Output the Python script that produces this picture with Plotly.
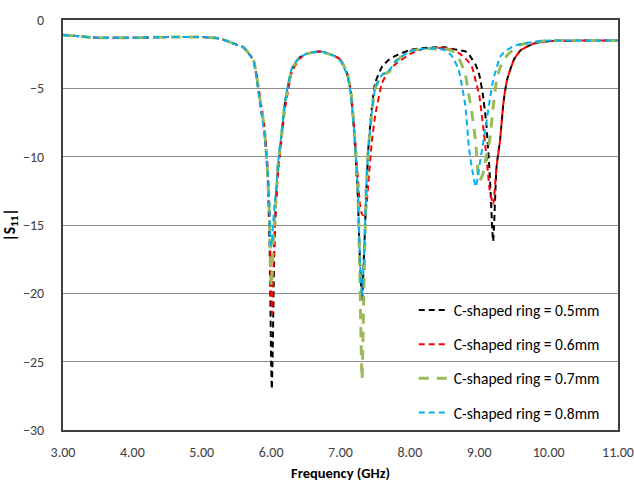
import plotly.graph_objects as go

freq = [3.0, 3.25, 3.5, 4.0, 4.5, 5.0, 5.25, 5.4, 5.5, 5.6, 5.7, 5.75, 5.8, 5.85, 5.9, 5.95, 5.98, 6.0,
        6.01, 6.02, 6.05, 6.08, 6.1, 6.15, 6.2, 6.25, 6.3, 6.4, 6.5, 6.7, 6.9, 7.0, 7.1, 7.15, 7.2, 7.25,
        7.28, 7.31, 7.34, 7.37, 7.4, 7.45, 7.5, 7.6, 7.7, 7.8, 8.0, 8.2, 8.4, 8.5, 8.6, 8.7, 8.8, 8.85,
        8.9, 8.95, 9.0, 9.05, 9.1, 9.15, 9.2, 9.25, 9.3, 9.35, 9.4, 9.5, 9.6, 9.8, 10.0, 10.5, 11.0]

s11_05 = [-1.1, -1.2, -1.3, -1.3, -1.25, -1.25, -1.35, -1.6, -1.8, -2.0, -2.6, -3.0, -4.5, -6.4, -8.0, -11.5, -17.0, -25.0,
          -27.0, -25.0, -16.0, -12.4, -10.8, -8.4, -6.1, -4.7, -3.6, -2.8, -2.5, -2.3, -2.6, -2.9, -4.0, -5.4, -8.5, -13.0,
          -17.5, -20.5, -17.0, -13.0, -9.5, -6.5, -4.6, -3.4, -2.9, -2.6, -2.2, -2.05, -2.0, -2.0, -2.1, -2.2, -2.3, -2.5,
          -2.9, -3.3, -4.0, -5.4, -7.5, -11.2, -16.2, -10.7, -8.8, -6.0, -4.4, -2.9, -2.2, -1.7, -1.55, -1.5, -1.5]

s11_06 = [-1.1, -1.2, -1.3, -1.3, -1.25, -1.25, -1.35, -1.6, -1.8, -2.0, -2.6, -3.0, -4.3, -6.0, -7.6, -10.8, -15.0, -20.0,
          -21.5, -20.5, -15.5, -12.6, -11.2, -8.8, -6.5, -5.0, -3.8, -2.9, -2.5, -2.3, -2.6, -2.9, -4.0, -5.2, -8.0, -11.5,
          -13.5, -14.2, -14.3, -13.8, -12.0, -9.0, -7.0, -4.6, -3.7, -3.2, -2.5, -2.1, -2.05, -2.05, -2.15, -2.4, -2.8, -3.1,
          -3.5, -4.5, -5.5, -7.5, -9.8, -12.4, -13.5, -10.7, -8.8, -6.0, -4.4, -2.9, -2.2, -1.7, -1.55, -1.5, -1.5]

s11_07 = [-1.1, -1.2, -1.3, -1.3, -1.25, -1.25, -1.35, -1.6, -1.8, -2.0, -2.6, -3.0, -4.4, -6.2, -7.8, -11.3, -15.0, -19.5,
          -19.0, -17.5, -14.5, -12.2, -10.6, -8.4, -6.1, -4.7, -3.6, -2.8, -2.5, -2.3, -2.6, -2.9, -4.0, -5.3, -8.2, -12.5,
          -19.0, -26.3, -19.0, -12.5, -9.5, -6.8, -5.0, -4.0, -3.8, -3.0, -2.3, -2.1, -2.1, -2.1, -2.25, -2.75, -4.0, -5.5,
          -7.0, -9.0, -11.8, -11.3, -10.0, -8.8, -6.4, -4.4, -3.5, -3.0, -2.6, -2.1, -1.8, -1.6, -1.5, -1.5, -1.5]

s11_08 = [-1.1, -1.2, -1.3, -1.3, -1.25, -1.25, -1.35, -1.6, -1.8, -2.0, -2.6, -3.1, -4.6, -6.5, -8.2, -11.0, -14.0, -16.5,
          -16.5, -15.5, -13.5, -12.0, -10.5, -8.3, -6.0, -4.6, -3.5, -2.8, -2.5, -2.3, -2.6, -3.0, -4.1, -5.5, -8.3, -12.5,
          -17.5, -20.2, -17.0, -12.5, -9.5, -6.8, -5.0, -4.0, -3.7, -3.0, -2.3, -2.1, -2.1, -2.2, -2.6, -3.6, -6.3, -9.3,
          -11.0, -12.2, -10.7, -9.2, -7.6, -5.9, -4.4, -3.5, -2.7, -2.4, -2.2, -1.9, -1.75, -1.6, -1.5, -1.5, -1.5]

series_names = ["C-shaped ring = 0.5mm", "C-shaped ring = 0.6mm", "C-shaped ring = 0.7mm", "C-shaped ring = 0.8mm"]
series_values = [s11_05, s11_06, s11_07, s11_08]
colors = ["#000000", "#FF0000", "#9BBB59", "#00B0F0"]
widths = [2, 2, 3, 2]
dashes = ["6px,4px", "6px,4px", "10px,8px", "6px,4px"]

x_ticks = [3, 4, 5, 6, 7, 8, 9, 10, 11]
x_tick_labels = ["3.00", "4.00", "5.00", "6.00", "7.00", "8.00", "9.00", "10.00", "11.00"]
y_ticks = [0, -5, -10, -15, -20, -25, -30]

font_family = "Carlito, Lato, sans-serif"

fig = go.Figure()
for i, (name, vals) in enumerate(zip(series_names, series_values)):
    fig.add_trace(go.Scatter(
        x=freq, y=vals, mode="lines", name=name, legendgroup=str(i),
        line=dict(color=colors[i], width=widths[i], dash=dashes[i], shape="spline", smoothing=0.5),
    ))

fig.update_layout(
    width=634, height=485,
    margin=dict(l=63, r=16, t=20, b=55),
    paper_bgcolor="white", plot_bgcolor="white",
    font=dict(family=font_family, size=14, color="#404040"),
    showlegend=True,
    legend=dict(x=0.632, y=0.333, xanchor="left", yanchor="top",
                bgcolor="rgba(0,0,0,0)", font=dict(size=15.5, color="#000000"),
                tracegroupgap=11, itemwidth=30),
    xaxis=dict(range=[3, 11], tickvals=x_ticks, ticktext=x_tick_labels, automargin=False,
               showgrid=False, zeroline=False, showline=True, mirror=True,
               linecolor="#404040", linewidth=2, ticks="outside", ticklen=8, tickcolor="rgba(0,0,0,0)",
               tickfont=dict(size=14, color="#404040"),
               title=dict(text="<b>Frequency (GHz)</b>", font=dict(size=14.5, color="#000000"), standoff=8)),
    yaxis=dict(range=[-30, 0], tickvals=y_ticks, automargin=False,
               showgrid=True, gridcolor="#8C8C8C", gridwidth=1, zeroline=False,
               showline=True, mirror=True, linecolor="#404040", linewidth=2,
               ticks="outside", ticklen=14, tickcolor="rgba(0,0,0,0)",
               tickfont=dict(size=14, color="#404040"),
               title=dict(text="<b>|S<sub>11</sub>|</b>", font=dict(size=15.5, color="#000000"), standoff=4)),
)

fig.write_html("out.html")
